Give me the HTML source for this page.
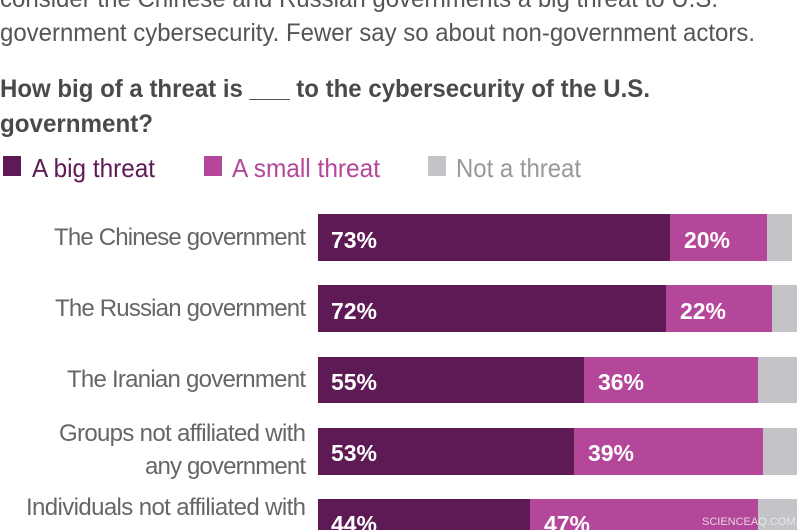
<!DOCTYPE html>
<html><head><meta charset="utf-8"><style>body{margin:0;background:#fff}svg{display:block}</style></head>
<body>
<svg width="800" height="530" xmlns="http://www.w3.org/2000/svg" font-family="Liberation Sans, Arial, sans-serif">
<g fill="#555" font-size="25">
<text x="0" y="7" textLength="718" lengthAdjust="spacingAndGlyphs">consider the Chinese and Russian governments a big threat to U.S.</text>
<text x="0" y="41" textLength="755" lengthAdjust="spacingAndGlyphs">government cybersecurity. Fewer say so about non-government actors.</text>
</g>
<g fill="#4a4a4a" font-size="25" font-weight="bold">
<text x="0" y="97" textLength="650" lengthAdjust="spacingAndGlyphs">How big of a threat is ___ to the cybersecurity of the U.S.</text>
<text x="0" y="132" textLength="153" lengthAdjust="spacingAndGlyphs">government?</text>
</g>
<rect x="3" y="156" width="18" height="20" fill="#5e1a55"/>
<text x="32" y="177" font-size="26" fill="#5e1a55" textLength="123" lengthAdjust="spacingAndGlyphs">A big threat</text>
<rect x="204" y="156" width="18" height="20" fill="#b5479b"/>
<text x="232" y="177" font-size="26" fill="#b5479b" textLength="148" lengthAdjust="spacingAndGlyphs">A small threat</text>
<rect x="428" y="156" width="18" height="20" fill="#c4c4c8"/>
<text x="456" y="177" font-size="26" fill="#999" textLength="125" lengthAdjust="spacingAndGlyphs">Not a threat</text>
<g font-size="24" fill="#666" lengthAdjust="spacingAndGlyphs">
<text x="54" y="245" textLength="252">The Chinese government</text>
<text x="55" y="316" textLength="251">The Russian government</text>
<text x="67" y="387" textLength="239">The Iranian government</text>
<text x="59" y="441" textLength="247">Groups not affiliated with</text>
<text x="145" y="474" textLength="161">any government</text>
<text x="26" y="515" textLength="280">Individuals not affiliated with</text>
</g>
<g>
<rect x="318" y="214" width="352" height="47" fill="#5e1a55"/><rect x="670" y="214" width="97" height="47" fill="#b5479b"/><rect x="767" y="214" width="25" height="47" fill="#c4c4c8"/>
<rect x="318" y="285" width="348" height="47" fill="#5e1a55"/><rect x="666" y="285" width="106" height="47" fill="#b5479b"/><rect x="772" y="285" width="25" height="47" fill="#c4c4c8"/>
<rect x="318" y="357" width="266" height="46" fill="#5e1a55"/><rect x="584" y="357" width="174" height="46" fill="#b5479b"/><rect x="758" y="357" width="39" height="46" fill="#c4c4c8"/>
<rect x="318" y="428" width="256" height="47" fill="#5e1a55"/><rect x="574" y="428" width="189" height="47" fill="#b5479b"/><rect x="763" y="428" width="34" height="47" fill="#c4c4c8"/>
<rect x="318" y="499" width="212" height="47" fill="#5e1a55"/><rect x="530" y="499" width="228" height="47" fill="#b5479b"/><rect x="758" y="499" width="39" height="47" fill="#c4c4c8"/>
</g>
<g font-size="23" fill="#fff" font-weight="bold" lengthAdjust="spacingAndGlyphs">
<text x="331" y="248" textLength="46">73%</text><text x="684" y="248" textLength="46">20%</text>
<text x="331" y="319" textLength="46">72%</text><text x="680" y="319" textLength="46">22%</text>
<text x="331" y="390" textLength="46">55%</text><text x="598" y="390" textLength="46">36%</text>
<text x="331" y="461" textLength="46">53%</text><text x="588" y="461" textLength="46">39%</text>
<text x="331" y="532" textLength="46">44%</text><text x="544" y="532" textLength="46">47%</text>
</g>
<text x="702" y="525" font-size="11" fill="#eee" opacity="0.85">SCIENCEAQ.COM</text>
</svg>
</body></html>
